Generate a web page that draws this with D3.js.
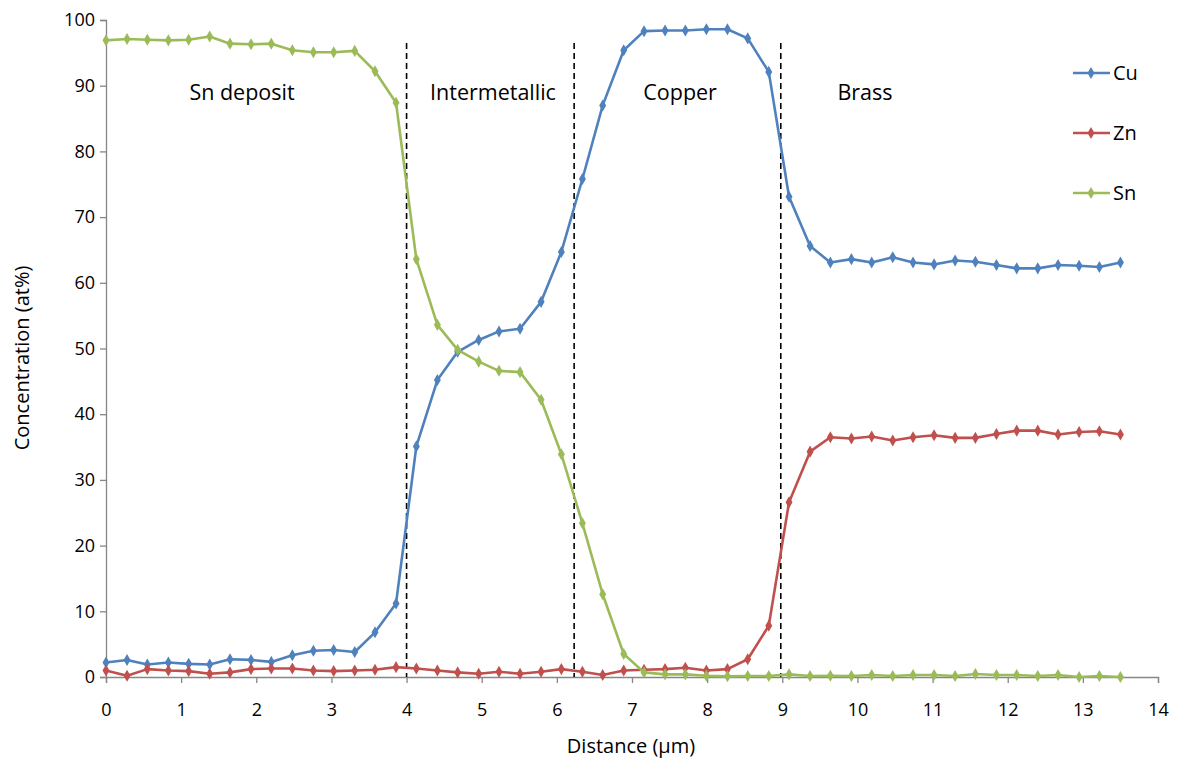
<!DOCTYPE html>
<html>
<head>
<meta charset="utf-8">
<script src="https://cdn.jsdelivr.net/npm/d3@7"></script>
<style>
  html, body { margin: 0; padding: 0; background: #fff; }
  svg { display: block; font-family: "Open Sans", "Noto Sans", sans-serif; }
</style>
</head>
<body>
<svg id="chart" width="1182" height="765"></svg>
<script>
// ---- data ----
const distance = [0, 0.28, 0.55, 0.83, 1.10, 1.38, 1.65, 1.93, 2.20, 2.48,
  2.76, 3.03, 3.31, 3.58, 3.86, 4.13, 4.41, 4.68, 4.96, 5.23,
  5.51, 5.79, 6.06, 6.34, 6.61, 6.89, 7.16, 7.44, 7.71, 7.99,
  8.27, 8.54, 8.82, 9.09, 9.37, 9.64, 9.92, 10.19, 10.47, 10.74,
  11.02, 11.30, 11.57, 11.85, 12.12, 12.40, 12.67, 12.95, 13.22, 13.50];
const cu = [2.2, 2.6, 1.9, 2.2, 2.0, 1.9, 2.7, 2.6, 2.3, 3.3,
  4.0, 4.1, 3.8, 6.8, 11.2, 35.1, 45.2, 49.5, 51.3, 52.6,
  53.0, 57.1, 64.7, 75.8, 87.0, 95.4, 98.3, 98.4, 98.4, 98.6,
  98.6, 97.2, 92.1, 73.1, 65.6, 63.1, 63.6, 63.1, 63.9, 63.1,
  62.8, 63.4, 63.2, 62.7, 62.2, 62.2, 62.7, 62.6, 62.4, 63.1];
const zn = [1.0, 0.2, 1.2, 1.0, 0.9, 0.5, 0.7, 1.2, 1.3, 1.3,
  1.0, 0.9, 1.0, 1.1, 1.5, 1.3, 1.0, 0.7, 0.5, 0.8,
  0.5, 0.8, 1.2, 0.8, 0.3, 1.0, 1.1, 1.2, 1.4, 1.0,
  1.2, 2.7, 7.8, 26.6, 34.3, 36.5, 36.3, 36.6, 36.0, 36.5,
  36.8, 36.4, 36.4, 37.0, 37.5, 37.5, 36.9, 37.3, 37.4, 36.9];
const sn = [96.9, 97.1, 97.0, 96.9, 97.0, 97.5, 96.4, 96.3, 96.4, 95.4,
  95.1, 95.1, 95.3, 92.2, 87.4, 63.6, 53.6, 49.8, 48.0, 46.6,
  46.4, 42.2, 33.9, 23.4, 12.6, 3.5, 0.7, 0.4, 0.4, 0.2,
  0.1, 0.15, 0.15, 0.4, 0.15, 0.2, 0.15, 0.3, 0.15, 0.3,
  0.3, 0.15, 0.45, 0.3, 0.3, 0.15, 0.3, 0.0, 0.15, 0.0];
const seriesNames = ["Cu", "Zn", "Sn"];
const seriesColors = ["#4F81BD", "#C0504D", "#9BBB59"];
const xTicks = [0, 1, 2, 3, 4, 5, 6, 7, 8, 9, 10, 11, 12, 13, 14];
const yTicks = [0, 10, 20, 30, 40, 50, 60, 70, 80, 90, 100];
const boundaries = [4.0, 6.23, 8.98];
const regionNames = ["Sn deposit", "Intermetallic", "Copper", "Brass"];
const regionCenters = [1.81, 5.15, 7.64, 10.1];
const regionLabelY = 87.8;
const boundaryTop = 96.5;

// ---- layout ----
const svg = d3.select("#chart");
const mLeft = 106, mRight = 1158, mTop = 20, mBottom = 677;
const x = d3.scaleLinear().domain([0, 14]).range([mLeft, mRight]);
const y = d3.scaleLinear().domain([0, 100]).range([mBottom, mTop]);
const axisColor = "#868686";

// axes
const xAxis = svg.append("g").attr("transform", `translate(0,${mBottom})`)
  .call(d3.axisBottom(x).tickValues(xTicks).tickSize(6).tickPadding(20));
const yAxis = svg.append("g").attr("transform", `translate(${mLeft},0)`)
  .call(d3.axisLeft(y).tickValues(yTicks).tickSize(6).tickPadding(5));
[xAxis, yAxis].forEach(g => {
  g.select(".domain").attr("stroke", axisColor).attr("stroke-width", 1.3);
  g.selectAll(".tick line").attr("stroke", axisColor).attr("stroke-width", 1.3);
  g.selectAll(".tick text").attr("fill", "#000").style("font-size", "18px")
    .style("font-family", "'Open Sans', sans-serif");
});

// axis titles
svg.append("text").attr("x", 631).attr("y", 753)
  .attr("text-anchor", "middle").style("font-size", "20px").text("Distance (µm)");
svg.append("text").attr("transform", `translate(29,358) rotate(-90)`)
  .attr("text-anchor", "middle").style("font-size", "20px").text("Concentration (at%)");

// boundaries
svg.append("g").selectAll("line").data(boundaries).join("line")
  .attr("x1", d => x(d)).attr("x2", d => x(d))
  .attr("y1", y(boundaryTop)).attr("y2", y(0))
  .attr("stroke", "#000").attr("stroke-width", 1.6).attr("stroke-dasharray", "6,4");

// region labels
svg.append("g").selectAll("text").data(regionNames).join("text")
  .attr("x", (d, i) => x(regionCenters[i])).attr("y", y(regionLabelY))
  .attr("text-anchor", "middle").style("font-size", "21.5px").text(d => d);

// series
const seriesData = [cu, zn, sn];
const line = d3.line().x((d, i) => x(distance[i])).y(d => y(d));
const diamond = d3.symbol().type(d3.symbolDiamond).size(42);
seriesData.forEach((vals, s) => {
  const g = svg.append("g");
  g.append("path").datum(vals).attr("d", line).attr("fill", "none")
    .attr("stroke", seriesColors[s]).attr("stroke-width", 2.6).attr("stroke-linejoin", "round");
  g.selectAll("path.m").data(vals).join("path").attr("class", "m")
    .attr("d", diamond)
    .attr("transform", (d, i) => `translate(${x(distance[i])},${y(d)})`)
    .attr("fill", seriesColors[s]);
});

// legend
const legY = [73, 133, 193];
const leg = svg.append("g");
seriesNames.forEach((name, i) => {
  leg.append("line").attr("x1", 1073).attr("x2", 1110).attr("y1", legY[i]).attr("y2", legY[i])
    .attr("stroke", seriesColors[i]).attr("stroke-width", 2.6);
  leg.append("path").attr("d", diamond).attr("transform", `translate(1091,${legY[i]})`)
    .attr("fill", seriesColors[i]);
  leg.append("text").attr("x", 1113).attr("y", legY[i] + 7).style("font-size", "20px").text(name);
});
</script>
</body>
</html>
